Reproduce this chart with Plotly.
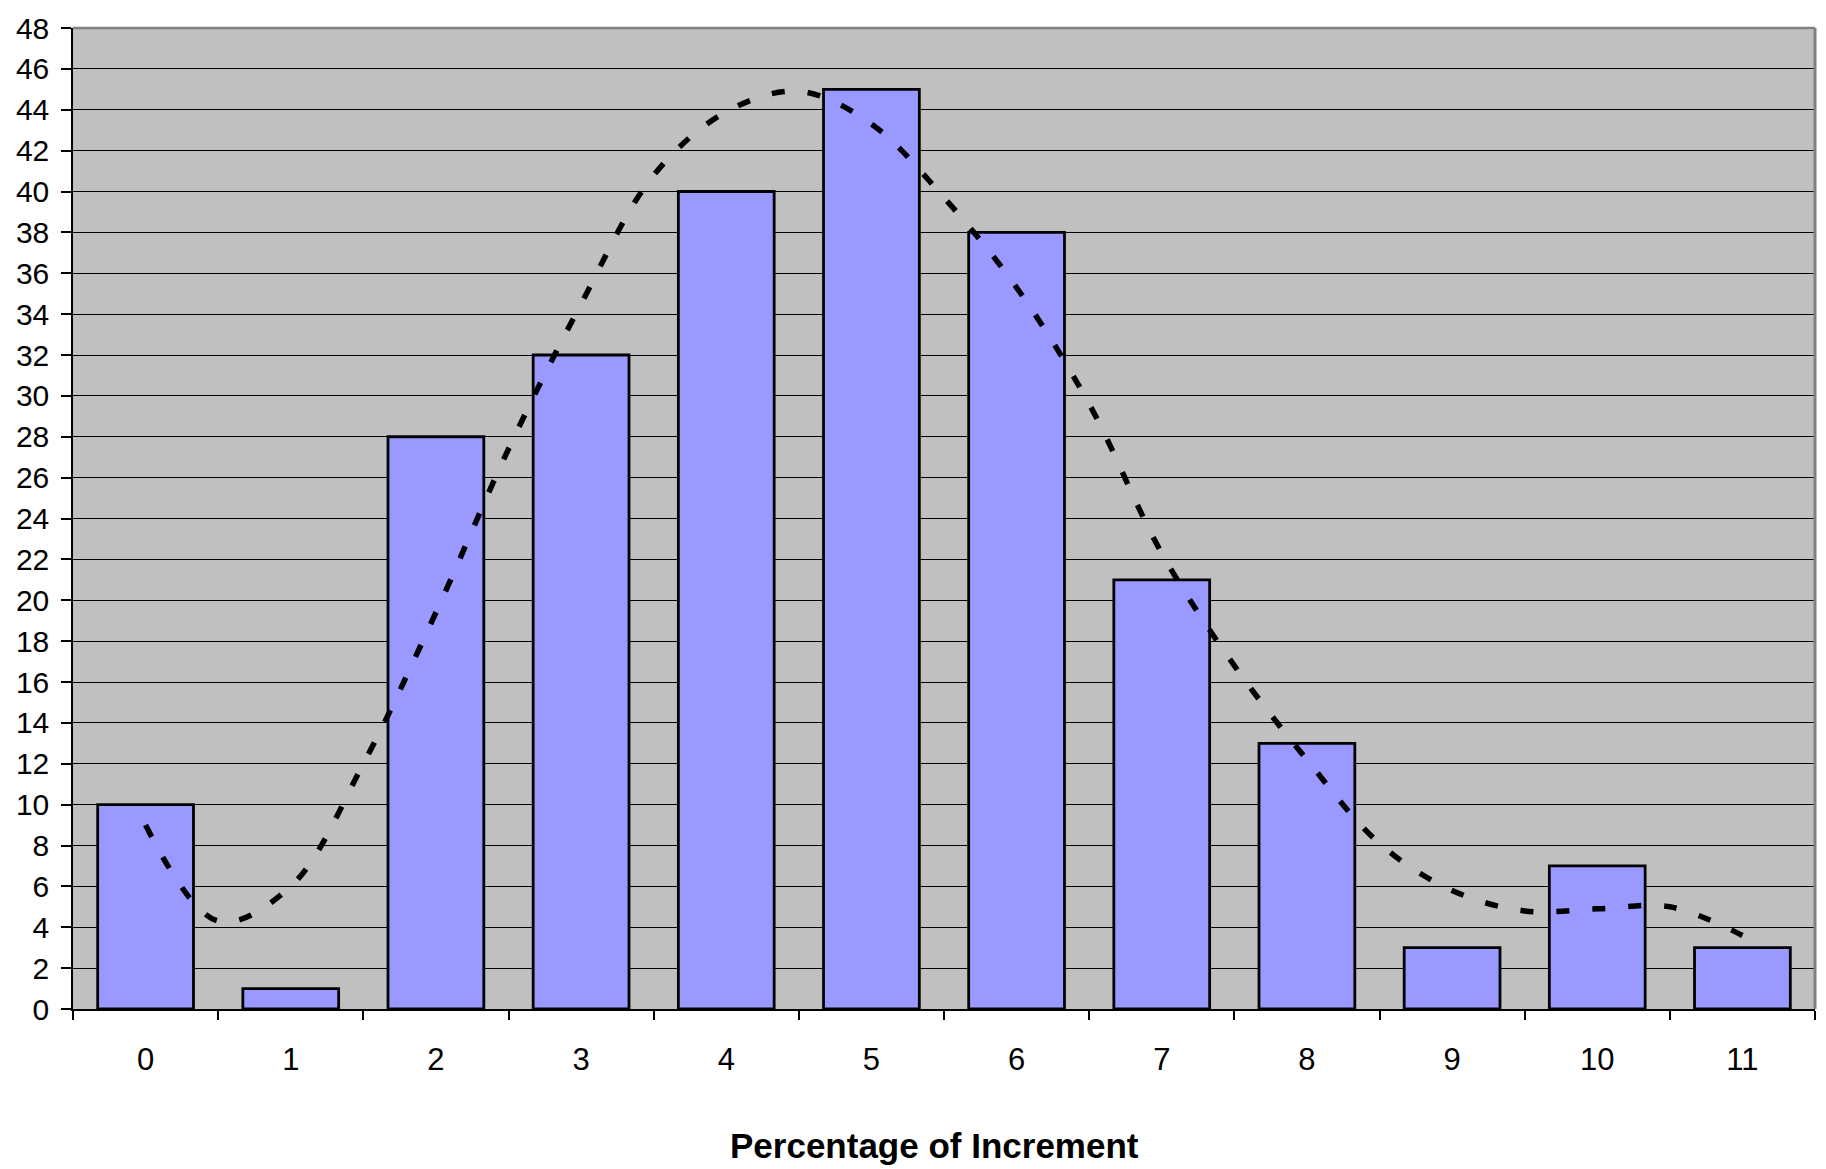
import plotly.graph_objects as go

# Bar data: count per percentage-of-increment category
categories = [0, 1, 2, 3, 4, 5, 6, 7, 8, 9, 10, 11]
counts = [10, 1, 28, 32, 40, 45, 38, 21, 13, 3, 7, 3]
tick_labels = ["0", "1", "2", "3", "4", "5", "6", "7", "8", "9", "10", "11"]

# Trend curve (category position, value)
trend_x = [0, 0.5, 1, 1.5, 2, 2.5, 3, 3.5, 4, 4.5, 5, 5.5, 6, 6.5, 7, 7.5,
           8, 8.5, 9, 9.5, 10, 10.5, 11]
trend_y = [9.0, 4.3, 6.0, 12.0, 19.4, 27.4, 34.5, 40.8, 43.9, 44.9, 43.3,
           39.7, 35.3, 29.6, 22.3, 16.8, 12.2, 8.1, 5.8, 4.8, 4.9, 5.0, 3.6]

boundaries = [c - 0.5 for c in categories] + [categories[-1] + 0.5]

fig = go.Figure()
fig.add_trace(go.Bar(
    x=categories, y=counts,
    marker=dict(color="#9999FF", line=dict(color="black", width=2.8)),
    showlegend=False,
))
fig.add_trace(go.Scatter(
    x=trend_x, y=trend_y, mode="lines",
    line=dict(color="black", width=5.5, dash="13px,23px", shape="spline", smoothing=1.0),
    showlegend=False,
))

font_family = "Liberation Sans, Arial, sans-serif"

fig.update_layout(
    width=1826, height=1169,
    margin=dict(l=73, r=11, t=24, b=160),
    paper_bgcolor="white",
    plot_bgcolor="#C0C0C0",
    bargap=0.34,
    font=dict(family=font_family, color="black"),
    xaxis=dict(
        range=[-0.5, 11.5],
        tickmode="array", tickvals=categories, ticktext=tick_labels,
        ticks="", showgrid=False, zeroline=False,
        showline=True, linecolor="black", linewidth=1.5,
        tickfont=dict(size=31, family=font_family, color="black"),
        ticklabelstandoff=22,
        minor=dict(tickmode="array", tickvals=boundaries, ticks="outside",
                   ticklen=9, tickwidth=1.5, tickcolor="black", showgrid=False),
    ),
    yaxis=dict(
        range=[0, 48], tickmode="linear", tick0=0, dtick=2,
        ticks="outside", ticklen=10, tickwidth=1.5, tickcolor="black",
        showgrid=True, gridcolor="black", gridwidth=1.2,
        zeroline=False,
        showline=True, linecolor="black", linewidth=1.5,
        tickfont=dict(size=30, family=font_family, color="black"),
        ticklabelstandoff=6,
    ),
    shapes=[
        dict(type="line", xref="paper", yref="paper", x0=0, x1=1, y0=1, y1=1,
             line=dict(color="#808080", width=2.5)),
        dict(type="line", xref="paper", yref="paper", x0=1, x1=1, y0=0, y1=1,
             line=dict(color="#808080", width=3)),
    ],
    annotations=[
        dict(text="<b>Percentage of Increment</b>", xref="paper", yref="paper",
             x=0.4948, y=0, yshift=-136, xanchor="center", yanchor="middle",
             showarrow=False, font=dict(size=35, family=font_family, color="black")),
    ],
)

fig.write_html(
    "out.html",
    config={"displayModeBar": False},
    post_script="document.body.style.margin='0';document.body.style.overflow='hidden';",
)
